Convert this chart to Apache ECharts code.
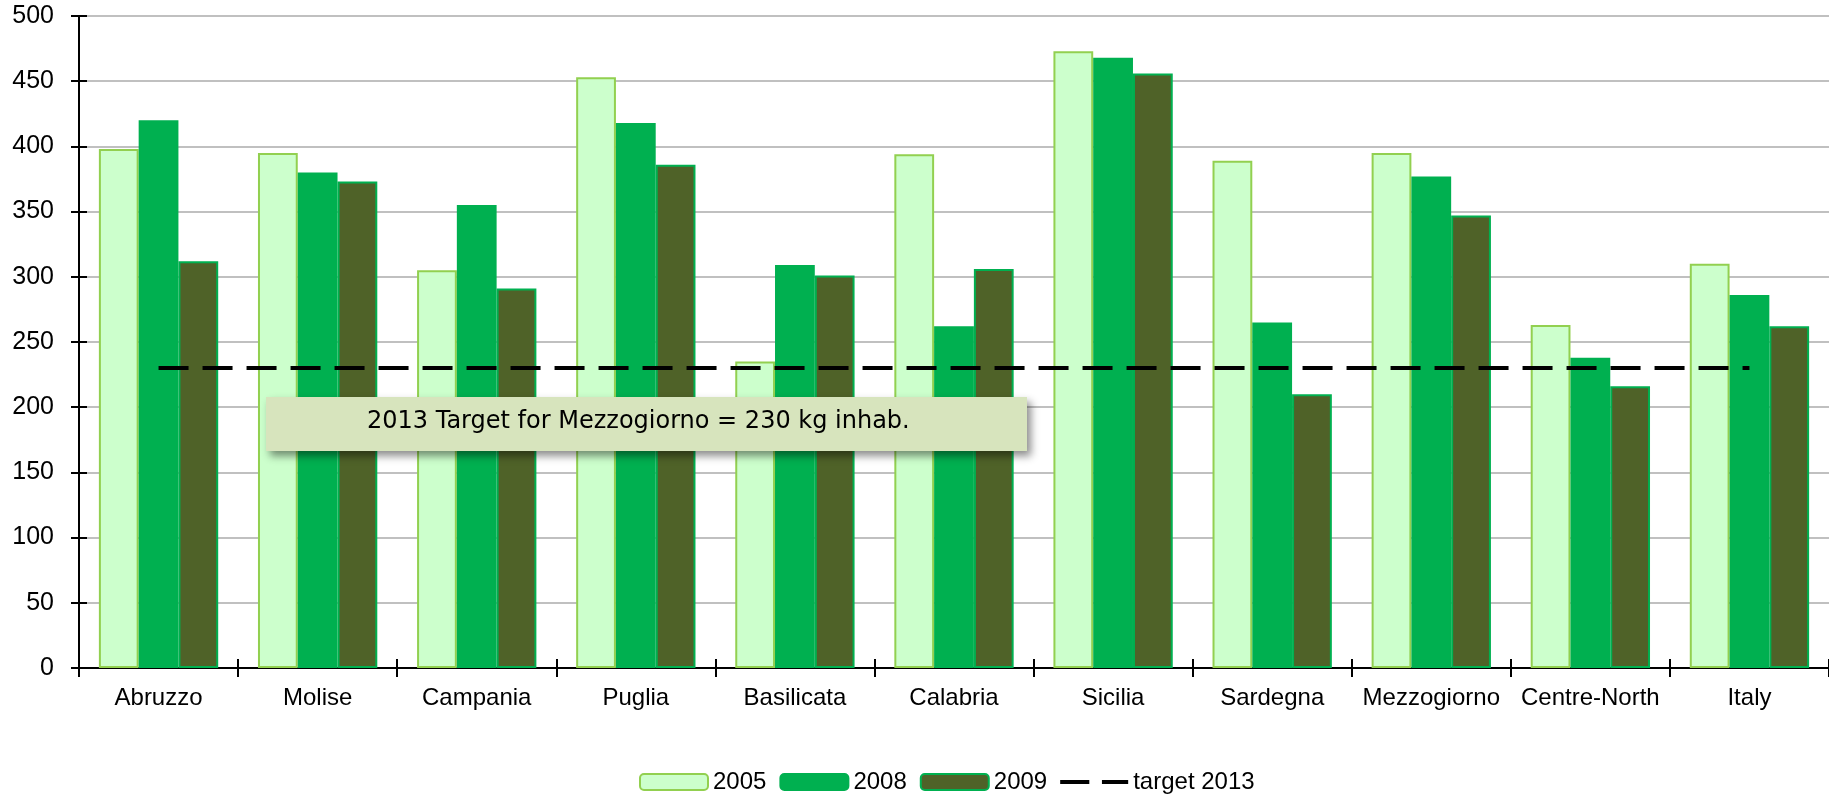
<!DOCTYPE html>
<html>
<head>
<meta charset="utf-8">
<title>Urban waste per inhabitant</title>
<script src="https://cdn.jsdelivr.net/npm/echarts@6/dist/echarts.min.js"></script>
<style>
  html, body { margin: 0; padding: 0; background: #ffffff; }
  #chart { width: 1829px; height: 798px; }
</style>
</head>
<body>
<div id="chart"></div>
<script>
// Regions shown on the category axis
const regions = ['Abruzzo', 'Molise', 'Campania', 'Puglia', 'Basilicata', 'Calabria',
  'Sicilia', 'Sardegna', 'Mezzogiorno', 'Centre-North', 'Italy'];

// kg per inhabitant, by year
const values2005 = [398, 395, 305, 453, 235, 394, 473, 389, 395, 263, 310];
const values2008 = [420, 380, 355, 418, 309, 262, 468, 265, 377, 238, 286];
const values2009 = [312, 373, 291, 386, 301, 306, 456, 210, 347, 216, 262];

// 2013 target for the Mezzogiorno
const targetValue = 230;
const targetLine = regions.map(() => targetValue);

// Value axis ticks
const yTicks = [0, 50, 100, 150, 200, 250, 300, 350, 400, 450, 500];

const FONT = "'Liberation Sans', Arial, sans-serif";
const chart = echarts.init(document.getElementById('chart'), null, { renderer: 'canvas' });

// Legend icon for the dashed target line: two dashes on a 70x16 box
// (the tiny corner triangles only fix the icon's bounding box)
const dashIcon = 'path://M0,0L0.01,0L0,0.01Z M70,16L69.99,16L70,15.99Z ' +
  'M0,6L30,6L30,10L0,10Z M43,6L70,6L70,10L43,10Z';

const option = {
  animation: false,
  backgroundColor: '#ffffff',
  grid: { left: 79, right: 0, top: 16, bottom: 130, containLabel: false },
  legend: {
    left: 634,
    top: 765,
    itemWidth: 68,
    itemHeight: 16,
    itemGap: 13,
    textStyle: { fontFamily: FONT, fontSize: 24, color: '#000000' },
    data: [
      { name: '2005' },
      { name: '2008' },
      { name: '2009' },
      { name: 'target 2013', icon: dashIcon, itemStyle: { color: '#000000', borderWidth: 0 } }
    ]
  },
  xAxis: [
    {
      type: 'category',
      data: regions,
      position: 'bottom',
      axisLine: { show: true, lineStyle: { color: '#000000', width: 2 } },
      axisTick: { show: true, length: 9, lineStyle: { color: '#000000', width: 2 } },
      axisLabel: { interval: 0, fontFamily: FONT, fontSize: 24, color: '#000000', margin: 18 },
      splitLine: { show: false }
    },
    {
      // inner half of the crossing tick marks
      type: 'category',
      data: regions,
      position: 'bottom',
      axisLine: { show: false },
      axisTick: { show: true, inside: true, length: 9, lineStyle: { color: '#000000', width: 2 } },
      axisLabel: { show: false },
      splitLine: { show: false }
    }
  ],
  yAxis: [
    {
      type: 'value',
      min: yTicks[0],
      max: yTicks[yTicks.length - 1],
      interval: 50,
      position: 'left',
      axisLine: { show: true, lineStyle: { color: '#000000', width: 2 } },
      axisTick: { show: true, length: 8, lineStyle: { color: '#000000', width: 2 } },
      axisLabel: { fontFamily: FONT, fontSize: 25, color: '#000000', margin: 25 },
      splitLine: { show: true, lineStyle: { color: '#C0C0C0', width: 2 } }
    },
    {
      // inner half of the crossing tick marks
      type: 'value',
      min: yTicks[0],
      max: yTicks[yTicks.length - 1],
      interval: 50,
      position: 'left',
      axisLine: { show: false },
      axisTick: { show: true, inside: true, length: 8, lineStyle: { color: '#000000', width: 2 } },
      axisLabel: { show: false },
      splitLine: { show: false }
    }
  ],
  series: [
    {
      name: '2005',
      type: 'bar',
      data: values2005,
      barGap: '0%',
      barCategoryGap: '25%',
      itemStyle: { color: '#CCFFCC', borderColor: '#92D050', borderWidth: 2 }
    },
    {
      name: '2008',
      type: 'bar',
      data: values2008,
      itemStyle: { color: '#00B050', borderColor: '#00B050', borderWidth: 2 }
    },
    {
      name: '2009',
      type: 'bar',
      data: values2009,
      itemStyle: { color: '#4F6228', borderColor: '#00B050', borderWidth: 2 }
    },
    {
      name: 'target 2013',
      type: 'line',
      data: targetLine,
      symbol: 'none',
      z: 5,
      lineStyle: { color: '#000000', width: 4, type: [30, 14], cap: 'butt' },
      itemStyle: { color: '#000000' }
    }
  ],
  graphic: [
    {
      type: 'rect',
      left: 266,
      top: 397,
      z: 100,
      zlevel: 1,
      shape: { width: 761, height: 54 },
      style: {
        fill: '#D7E4BD',
        shadowBlur: 8,
        shadowOffsetX: 4,
        shadowOffsetY: 5,
        shadowColor: 'rgba(0,0,0,0.45)'
      }
    },
    {
      type: 'text',
      left: 367,
      top: 410,
      z: 101,
      zlevel: 1,
      style: {
        text: '2013 Target for Mezzogiorno = 230 kg inhab.',
        font: "24px 'DejaVu Sans', 'Liberation Sans', sans-serif",
        fill: '#000000'
      }
    }
  ]
};

chart.setOption(option);
</script>
</body>
</html>
